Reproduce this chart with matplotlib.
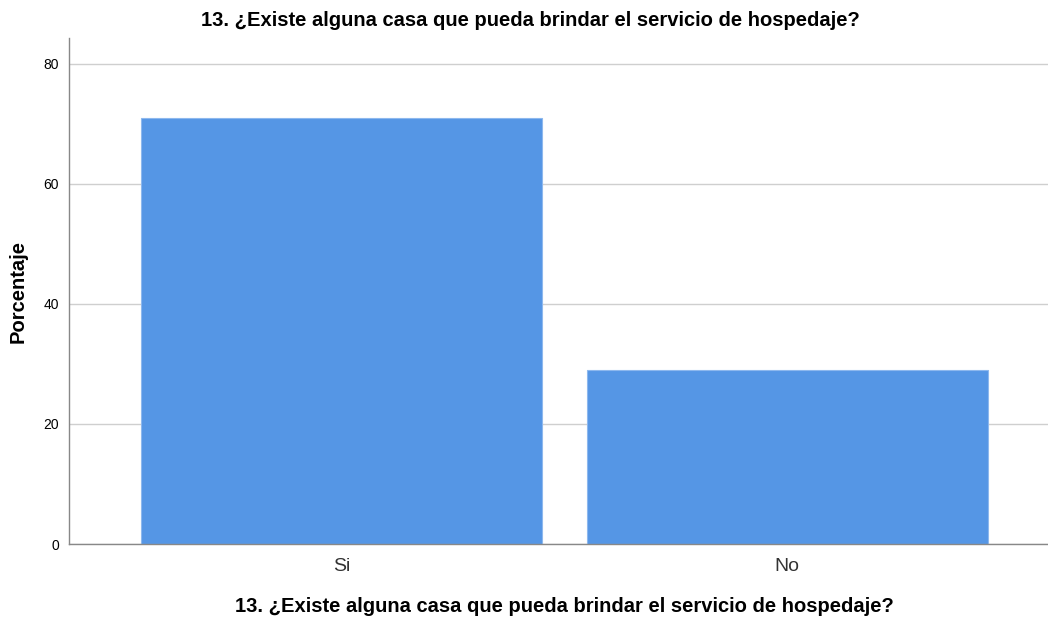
import matplotlib.pyplot as plt

plt.rcParams['font.family'] = ['Liberation Sans', 'DejaVu Sans']

# datos
categorias = ['Si', 'No']
porcentaje = [70.97, 29.03]
ticks_y = [0, 20, 40, 60, 80]

titulo = '13. ¿Existe alguna casa que pueda brindar el servicio de hospedaje?'

fig = plt.figure(figsize=(10.48, 6.17), dpi=100)
ax = fig.add_axes([0.0658, 0.1183, 0.934, 0.82])

x = range(len(categorias))
ax.bar(x, porcentaje, width=0.9, color='#5596E5', edgecolor='#8DB8EE', linewidth=0.8, zorder=2)

ax.set_xlim(-0.611, 1.584)
ax.set_ylim(0, 84.3)
ax.set_yticks(ticks_y)
ax.set_xticks(list(x))
ax.set_xticklabels(categorias, fontsize=14, color='#333333')
ax.tick_params(axis='y', length=0, labelsize=10, pad=7)
ax.tick_params(axis='x', length=0, pad=10)
ax.grid(axis='y', color='#CFCFCF', linewidth=1.0, zorder=0)

for s in ['top', 'right']:
    ax.spines[s].set_visible(False)
for s in ['left', 'bottom']:
    ax.spines[s].set_color('#888888')
    ax.spines[s].set_linewidth(1.0)

fig.text(0.506, 0.967, titulo, ha='center', va='center', fontsize=14.5, fontweight='bold')
fig.text(0.539, 0.017, titulo, ha='center', va='center', fontsize=14.5, fontweight='bold')
fig.text(0.017, 0.528, 'Porcentaje', ha='center', va='center', rotation=90, fontsize=14.5, fontweight='bold')

plt.savefig('out.png', dpi=100)
